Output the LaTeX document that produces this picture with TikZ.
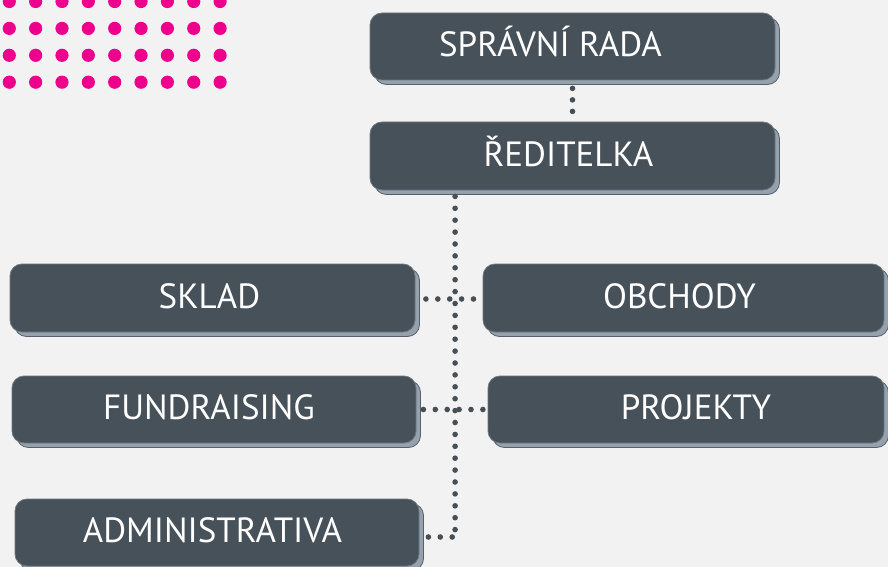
\documentclass[tikz,border=0pt]{standalone}
\usepackage{fontspec}
\setmainfont{PT Sans}
\usetikzlibrary{shadows}
\definecolor{bg}{HTML}{F2F2F2}
\definecolor{boxfill}{HTML}{475159}
\definecolor{boxline}{HTML}{6E7880}
\definecolor{shadowfill}{HTML}{95A1AC}
\definecolor{shadowline}{HTML}{56606A}
\definecolor{dotgray}{HTML}{474F56}
\definecolor{pink}{HTML}{EC008C}
\tikzset{
  orgbox/.style={draw=boxline, line width=0.8pt, fill=boxfill, rounded corners=12pt,
    minimum width=404pt, minimum height=67pt, inner sep=0pt,
    text=white, font=\fontsize{35}{40}\selectfont, text height=25pt, text depth=5pt,
    drop shadow={shadow xshift=4.5pt, shadow yshift=-4.5pt, fill=shadowfill,
      draw=shadowline, line width=0.8pt, opacity=1}},
  dotline/.style={draw=dotgray, line width=5.6pt, line cap=round, dash pattern=on 0pt off 11.9pt},
  pinkdot/.style={fill=pink, draw=none}
}
\begin{document}
\begin{tikzpicture}[x=1pt, y=-1pt]
\fill[bg] (0,0) rectangle (888,567);
\useasboundingbox (0,0) rectangle (888,567);
% pink dot grid
\foreach \r in {0,1,2,3}{
  \foreach \c in {0,...,8}{
    \fill[pinkdot] (9.3+26.35*\c, 1.5+26.9*\r) circle (6.6pt);
  }
}
% boxes
\node[orgbox, minimum width=405pt] (rada) at (572.5,46.5) {\hspace*{-44pt}SPRÁVNÍ RADA};
\node[orgbox, minimum width=405pt, minimum height=68pt] (red) at (572.5,156) {\hspace*{-8pt}ŘEDITELKA};
\node[orgbox, minimum width=405pt, minimum height=68pt] (sklad) at (212.5,298) {\hspace*{-6pt}SKLAD};
\node[orgbox, minimum width=401pt, minimum height=68pt] (obch) at (683.5,298) {\hspace*{-8pt}OBCHODY};
\node[orgbox] (fund) at (214,409.5) {\hspace*{-10pt}FUNDRAISING};
\node[orgbox, minimum width=396pt] (proj) at (686,409.5) {\hspace*{20pt}PROJEKTY};
\node[orgbox] (adm) at (217,532.5) {\hspace*{-9pt}ADMINISTRATIVA};
% connectors
\coordinate (vtop) at ([xshift=85.5pt, yshift=-6pt]red.south west);
\coordinate (admend) at ([xshift=9pt, yshift=-4.5pt]adm.east);
\coordinate (corner) at (vtop |- admend);
\draw[dotline, dash pattern=on 0pt off 11.5pt] ([yshift=-8pt]rada.south) -- ([yshift=9.5pt]red.north);
\draw[dotline] (vtop) -- (corner);
\draw[dotline] (admend) -- (corner);
\draw[dotline] ([xshift=10.5pt, yshift=-1pt]sklad.east) -- ([xshift=-8pt, yshift=-1pt]obch.west);
\draw[dotline] ([xshift=7pt]fund.east) -- ([xshift=-2pt]proj.west);
\end{tikzpicture}
\end{document}
